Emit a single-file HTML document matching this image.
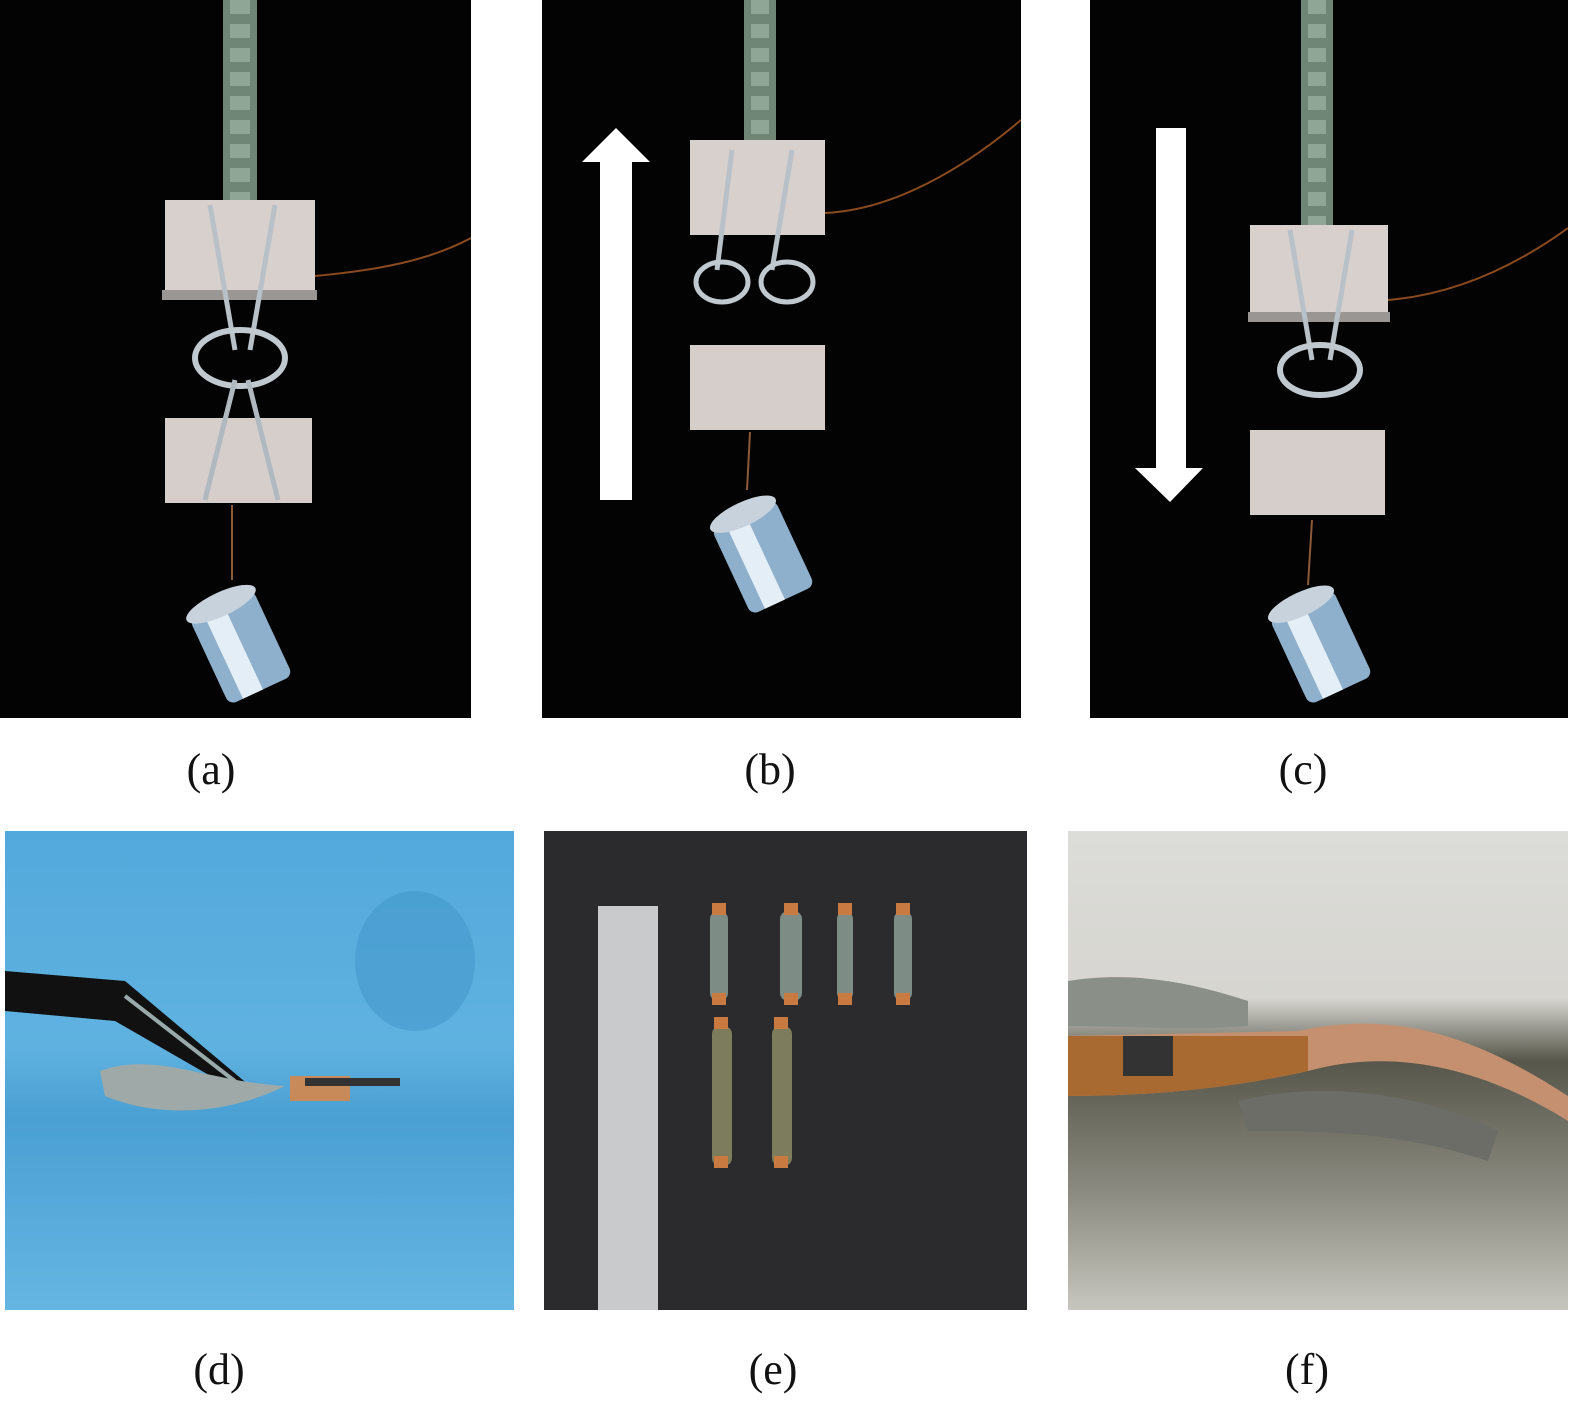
<!DOCTYPE html>
<html><head><meta charset="utf-8">
<style>
body{margin:0;width:1575px;height:1406px;background:#fff;position:relative;overflow:hidden;font-family:"Liberation Serif",serif}
.p{position:absolute;overflow:hidden}
.lbl{position:absolute;font-size:44px;color:#111;transform:translateX(-50%)}
svg{position:absolute;left:0;top:0}
</style></head><body>

<!-- (a) -->
<div class="p" style="left:0;top:0;width:471px;height:718px;background:#030303">
<svg width="471" height="718">
<path d="M240 0 L240 200" stroke="#6f8677" stroke-width="34"/>
<path d="M240 0 L240 200" stroke="#8fa696" stroke-width="20" stroke-dasharray="14 10"/>
<path d="M315 276 C380 270 430 260 471 238" stroke="#8a4a20" stroke-width="2" fill="none"/>
<rect x="165" y="200" width="150" height="95" fill="#d8d0cc"/>
<rect x="162" y="290" width="155" height="10" fill="#9a9694"/>
<path d="M210 205 L235 350 M275 205 L250 350" stroke="#b8c0c8" stroke-width="5" fill="none"/>
<ellipse cx="240" cy="358" rx="45" ry="28" stroke="#c0c8d0" stroke-width="6" fill="none"/>
<rect x="165" y="418" width="147" height="85" fill="#d6cecb"/>
<path d="M235 380 L205 500 M248 380 L278 500" stroke="#b0b8c0" stroke-width="5" fill="none"/>
<path d="M232 505 L232 580" stroke="#8a5a3a" stroke-width="2"/>
<g transform="rotate(-25 240 645)"><rect x="205" y="600" width="70" height="95" rx="8" fill="#8fb0cc"/><rect x="220" y="600" width="22" height="95" fill="#e4eef6"/><ellipse cx="240" cy="600" rx="38" ry="12" fill="#c8d2dc"/></g>
</svg></div>

<!-- (b) -->
<div class="p" style="left:542px;top:0;width:479px;height:718px;background:#030303">
<svg width="479" height="718">
<polygon points="74,128 108,162 90,162 90,500 58,500 58,162 40,162" fill="#fff"/>
<path d="M218 0 L218 140" stroke="#6f8677" stroke-width="32"/>
<path d="M218 0 L218 140" stroke="#8fa696" stroke-width="18" stroke-dasharray="14 10"/>
<path d="M283 213 C350 210 420 170 479 120" stroke="#8a4a20" stroke-width="2" fill="none"/>
<rect x="148" y="140" width="135" height="95" fill="#d8d0cc"/>
<path d="M190 150 L175 270 M250 150 L230 270" stroke="#b8c0c8" stroke-width="5" fill="none"/>
<ellipse cx="180" cy="282" rx="26" ry="20" stroke="#c0c8d0" stroke-width="5" fill="none"/>
<ellipse cx="245" cy="282" rx="26" ry="20" stroke="#c0c8d0" stroke-width="5" fill="none"/>
<rect x="148" y="345" width="135" height="85" fill="#d6cecb"/>
<path d="M208 432 L205 490" stroke="#8a5a3a" stroke-width="2"/>
<g transform="rotate(-25 220 555)"><rect x="185" y="510" width="70" height="95" rx="8" fill="#8fb0cc"/><rect x="200" y="510" width="22" height="95" fill="#e4eef6"/><ellipse cx="220" cy="510" rx="36" ry="12" fill="#c8d2dc"/></g>
</svg></div>

<!-- (c) -->
<div class="p" style="left:1090px;top:0;width:478px;height:718px;background:#030303">
<svg width="478" height="718">
<polygon points="66,128 96,128 96,468 113,468 80,502 45,468 66,468" fill="#fff"/>
<path d="M227 0 L227 225" stroke="#6f8677" stroke-width="32"/>
<path d="M227 0 L227 225" stroke="#8fa696" stroke-width="18" stroke-dasharray="14 10"/>
<path d="M298 300 C360 295 420 270 478 228" stroke="#8a4a20" stroke-width="2" fill="none"/>
<rect x="160" y="225" width="138" height="93" fill="#d8d0cc"/>
<rect x="158" y="312" width="142" height="10" fill="#9a9694"/>
<path d="M200 230 L222 360 M262 230 L240 360" stroke="#b8c0c8" stroke-width="5" fill="none"/>
<ellipse cx="230" cy="370" rx="40" ry="25" stroke="#c0c8d0" stroke-width="6" fill="none"/>
<rect x="160" y="430" width="135" height="85" fill="#d6cecb"/>
<path d="M222 520 L218 585" stroke="#8a5a3a" stroke-width="2"/>
<g transform="rotate(-25 230 645)"><rect x="195" y="600" width="70" height="95" rx="8" fill="#8fb0cc"/><rect x="210" y="600" width="22" height="95" fill="#e4eef6"/><ellipse cx="230" cy="600" rx="36" ry="12" fill="#c8d2dc"/></g>
</svg></div>

<div class="lbl" style="left:211px;top:744px">(a)</div>
<div class="lbl" style="left:770px;top:744px">(b)</div>
<div class="lbl" style="left:1303px;top:744px">(c)</div>

<!-- (d) -->
<div class="p" style="left:5px;top:831px;width:509px;height:479px;background:linear-gradient(180deg,#53a9dc 0%,#5fb2e0 45%,#4a9fd3 60%,#65b6e2 100%)">
<svg width="509" height="479">
<ellipse cx="410" cy="130" rx="60" ry="70" fill="#3f93c8" opacity="0.5"/>
<path d="M0 140 L120 150 L245 255 L235 262 L110 190 L0 180 Z" fill="#111"/>
<path d="M120 165 L240 258" stroke="#9aa" stroke-width="4"/>
<path d="M95 240 C150 220 200 250 280 255 C230 280 160 290 100 265 Z" fill="#9ea9a8"/>
<rect x="285" y="245" width="60" height="25" fill="#c98a5a"/>
<rect x="300" y="247" width="95" height="8" fill="#333"/>
</svg></div>

<!-- (e) -->
<div class="p" style="left:544px;top:831px;width:483px;height:479px;background:#2b2b2d">
<svg width="483" height="479">
<rect x="54" y="75" width="60" height="404" fill="#c8cacb"/>
<g fill="#7e8c86">
<rect x="166" y="80" width="18" height="90" rx="8"/><rect x="236" y="80" width="22" height="90" rx="8"/>
<rect x="293" y="80" width="16" height="90" rx="8"/><rect x="350" y="80" width="18" height="90" rx="8"/>
<rect x="168" y="195" width="20" height="140" rx="8" fill="#7d7d5e"/><rect x="228" y="195" width="20" height="140" rx="8" fill="#7d7d5e"/>
</g>
<g fill="#c97a40">
<rect x="168" y="72" width="14" height="12"/><rect x="168" y="162" width="14" height="12"/>
<rect x="240" y="72" width="14" height="12"/><rect x="240" y="162" width="14" height="12"/>
<rect x="294" y="72" width="14" height="12"/><rect x="294" y="162" width="14" height="12"/>
<rect x="352" y="72" width="14" height="12"/><rect x="352" y="162" width="14" height="12"/>
<rect x="170" y="186" width="14" height="12"/><rect x="170" y="325" width="14" height="12"/>
<rect x="230" y="186" width="14" height="12"/><rect x="230" y="325" width="14" height="12"/>
</g>
</svg></div>

<!-- (f) -->
<div class="p" style="left:1068px;top:831px;width:500px;height:479px;background:linear-gradient(180deg,#dcdcd8 0%,#d6d5d0 35%,#56564a 48%,#8a8a80 75%,#c6c6be 100%)">
<svg width="500" height="479">
<path d="M0 205 L230 200 C320 180 400 200 500 265 L500 290 C420 240 330 215 240 240 C150 260 70 265 0 265 Z" fill="#c49070"/>
<path d="M0 205 L240 205 L240 240 C150 260 70 265 0 265 Z" fill="#a86a30"/>
<path d="M0 150 C60 140 120 150 180 170 L180 195 C120 200 60 195 0 195 Z" fill="#8a8f88"/>
<rect x="55" y="205" width="50" height="40" fill="#333"/>
<path d="M170 270 C250 250 350 260 430 300 L420 330 C330 300 250 300 180 300 Z" fill="#6b6d66"/>
</svg></div>

<div class="lbl" style="left:219px;top:1344px">(d)</div>
<div class="lbl" style="left:773px;top:1344px">(e)</div>
<div class="lbl" style="left:1307px;top:1344px">(f)</div>
</body></html>
